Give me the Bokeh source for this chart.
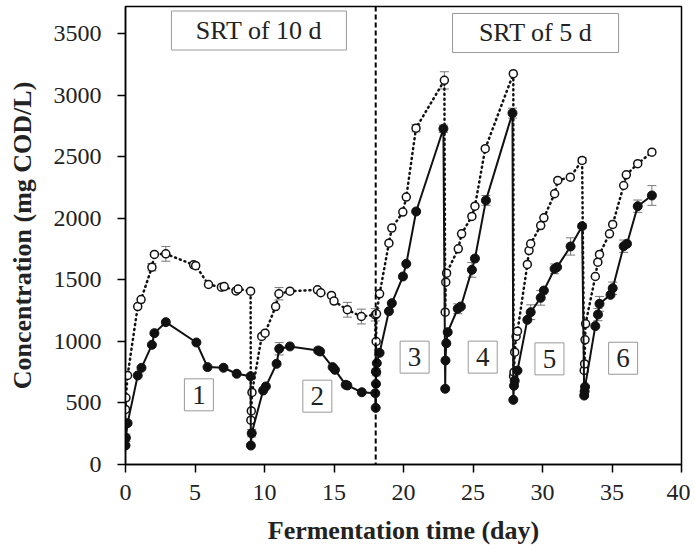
from bokeh.plotting import figure
from bokeh.models import ColumnDataSource, Range1d, FixedTicker, Span, Whisker, TeeHead
from bokeh.core.properties import value
from bokeh.embed import file_html
from bokeh.resources import INLINE

# Solid series (filled circles): day, COD, error
solid_day = [0.0, 0.03, 0.15, 0.88, 1.15, 1.9, 2.08, 2.9, 5.1, 5.9, 7.05, 8.0, 9.0,
             9.02, 9.08, 9.9, 10.1, 10.87, 11.06, 11.83, 13.86, 14.0, 14.9, 15.07, 15.84, 15.96, 17.0, 17.97,
             18.0, 18.02, 18.04, 18.08, 18.28, 18.95, 19.16, 19.96, 20.2, 20.91, 22.87,
             23.0, 23.02, 23.08, 23.18, 23.9, 24.13, 24.92, 25.14, 25.93, 27.84,
             27.9, 27.95, 28.0, 28.2, 28.91, 29.15, 29.87, 30.1, 30.87, 31.05, 32.02, 32.85,
             33.0, 33.03, 33.06, 33.8, 33.99, 34.1, 34.89, 35.05, 35.84, 36.08, 36.85, 37.87]
solid_cod = [154, 217, 336, 723, 785, 972, 1067, 1156, 991, 791, 786, 737, 717,
             154, 254, 601, 634, 818, 940, 959, 926, 918, 791, 769, 647, 642, 587, 579,
             460, 655, 750, 823, 907, 1245, 1310, 1527, 1630, 2055, 2727,
             615, 845, 985, 1075, 1265, 1283, 1581, 1673, 2145, 2854,
             525, 640, 680, 763, 1175, 1237, 1354, 1413, 1589, 1603, 1771, 1936,
             560, 594, 631, 1124, 1218, 1305, 1378, 1432, 1773, 1793, 2098, 2185]
solid_err = [0, 30, 0, 0, 0, 0, 0, 0, 0, 0, 0, 0, 0,
             0, 30, 0, 0, 0, 50, 0, 20, 0, 0, 0, 0, 0, 0, 0,
             0, 0, 30, 0, 0, 0, 0, 0, 0, 0, 30,
             0, 0, 0, 0, 40, 0, 60, 0, 40, 40,
             0, 0, 0, 0, 0, 60, 60, 0, 40, 0, 70, 20,
             0, 0, 0, 0, 50, 60, 0, 50, 50, 0, 50, 80]

# Open series (open circles): day, COD, error
open_day = [0.0, 0.03, 0.15, 0.88, 1.12, 1.9, 2.08, 2.9, 4.9, 5.05, 5.97, 6.9, 7.1, 7.95, 8.1, 9.0,
            9.02, 9.05, 9.1, 9.8, 10.04, 10.8, 11.04, 11.83, 13.81, 14.05, 14.82, 15.0, 15.96, 16.97, 17.97,
            18.0, 18.03, 18.06, 18.28, 18.95, 19.16, 19.95, 20.2, 20.9, 22.94,
            23.0, 23.04, 23.1, 23.94, 24.18, 24.92, 25.14, 25.88, 27.9,
            27.92, 27.95, 28.0, 28.1, 28.2, 28.91, 29.03, 29.15, 29.87, 30.1, 30.87, 31.1, 32.0, 32.85,
            33.0, 33.03, 33.06, 33.1, 33.8, 33.98, 34.1, 34.82, 35.05, 35.84, 36.03, 36.85, 37.87]
open_cod = [447, 542, 723, 1283, 1340, 1603, 1706, 1711, 1622, 1615, 1462, 1440, 1445, 1410, 1425, 1408,
            360, 435, 585, 1040, 1067, 1283, 1387, 1408, 1419, 1395, 1373, 1327, 1257, 1202, 1216,
            755, 999, 1224, 1386, 1798, 1920, 2050, 2172, 2732, 3120,
            1237, 1481, 1554, 1752, 1874, 2015, 2098, 2565, 3174,
            717, 750, 912, 1040, 1083, 1625, 1738, 1793, 1941, 2004, 2199, 2307, 2334, 2470,
            764, 817, 1013, 1143, 1527, 1643, 1706, 1874, 1950, 2266, 2353, 2443, 2537]
open_err = [0, 0, 0, 0, 0, 30, 0, 60, 0, 0, 0, 0, 0, 0, 0, 0,
            0, 0, 0, 0, 0, 0, 50, 0, 0, 0, 0, 0, 60, 60, 50,
            0, 0, 0, 0, 0, 0, 0, 0, 30, 70,
            0, 0, 0, 0, 0, 0, 0, 0, 0,
            0, 0, 0, 0, 0, 0, 0, 0, 0, 0, 0, 0, 0, 20,
            0, 0, 0, 0, 0, 0, 0, 0, 0, 0, 0, 0, 0]

x_ticks = [0, 5, 10, 15, 20, 25, 30, 35, 40]
y_ticks = [0, 500, 1000, 1500, 2000, 2500, 3000, 3500]
srt_change_day = 18

srt_text = ["SRT of 10 d", "SRT of 5 d"]
srt_x = [9.6, 29.5]
srt_y = [3525, 3505]
srt_w = [175, 166]

cycle_text = ["1", "2", "3", "4", "5", "6"]
cycle_x = [5.28, 13.8, 20.8, 25.7, 30.5, 35.8]
cycle_y = [566, 555, 872, 872, 858, 863]

FONT = "Liberation Serif"

p = figure(width=690, height=550, output_backend="svg", toolbar_location=None,
           x_range=Range1d(0, 40), y_range=Range1d(0, 3720),
           min_border_left=125, min_border_right=9, min_border_top=6, min_border_bottom=86)
p.grid.visible = False
p.outline_line_color = "black"
p.outline_line_width = 1.5
p.background_fill_color = "white"
p.border_fill_color = "white"

for ax in (p.xaxis[0], p.yaxis[0]):
    ax.axis_line_width = 1.5
    ax.axis_line_color = "black"
    ax.major_tick_line_width = 1.5
    ax.major_tick_out = 8
    ax.major_tick_in = 0
    ax.minor_tick_out = 0
    ax.minor_tick_in = 0
    ax.major_label_text_font = FONT
    ax.major_label_text_font_size = "24px"
    ax.major_label_text_color = "#222222"
    ax.axis_label_text_font = FONT
    ax.axis_label_text_font_size = "26px"
    ax.axis_label_text_font_style = "bold"
    ax.axis_label_text_color = "#222222"

p.xaxis.ticker = FixedTicker(ticks=x_ticks)
p.yaxis.ticker = FixedTicker(ticks=y_ticks)
p.xaxis.axis_label = "Fermentation time (day)"
p.yaxis.axis_label = "Concentration (mg COD/L)"
p.xaxis.major_label_standoff = 12
p.xaxis.axis_label_standoff = 13
p.yaxis.major_label_standoff = 16
p.yaxis.axis_label_standoff = 14

p.add_layout(Span(location=srt_change_day, dimension="height", line_color="black",
                  line_width=2, line_dash="5 3"))

# boxes
p.rect(x=srt_x, y=srt_y, width=srt_w, height=39, width_units="screen", height_units="screen",
       fill_color="white", line_color="#999999", line_width=1)
p.text(x=srt_x, y=srt_y, text=srt_text, text_font=value(FONT), text_font_size="26px",
       text_align="center", text_baseline="middle", text_color="#222222")
p.rect(x=cycle_x, y=cycle_y, width=29, height=32, width_units="screen", height_units="screen",
       fill_color="white", line_color="#999999", line_width=1)
p.text(x=cycle_x, y=cycle_y, text=cycle_text, text_font=value(FONT), text_font_size="27px",
       text_align="center", text_baseline="middle", text_color="#222222")

# error bars
def err_source(days, cods, errs):
    d = [(x, c - e, c + e) for x, c, e in zip(days, cods, errs) if e > 0]
    return ColumnDataSource(dict(x=[a[0] for a in d], lower=[a[1] for a in d], upper=[a[2] for a in d]))

for dd, cc, ee in ((open_day, open_cod, open_err), (solid_day, solid_cod, solid_err)):
    w = Whisker(source=err_source(dd, cc, ee), base="x", lower="lower", upper="upper",
                dimension="height", line_color="#777777", line_width=1,
                upper_head=TeeHead(size=9, line_color="#777777", line_width=1),
                lower_head=TeeHead(size=9, line_color="#777777", line_width=1))
    p.add_layout(w)

open_src = ColumnDataSource(dict(x=open_day, y=open_cod))
solid_src = ColumnDataSource(dict(x=solid_day, y=solid_cod))

p.line("x", "y", source=open_src, line_color="#111111", line_width=2.5, line_dash="1 4",
       line_cap="round")
p.scatter("x", "y", source=open_src, marker="circle", size=8, fill_color="white",
          line_color="#111111", line_width=1.5)

p.line("x", "y", source=solid_src, line_color="#111111", line_width=2)
p.scatter("x", "y", source=solid_src, marker="circle", size=9, fill_color="#111111",
          line_color="#111111", line_width=1)

open("out.html", "w").write(file_html(p, INLINE))
